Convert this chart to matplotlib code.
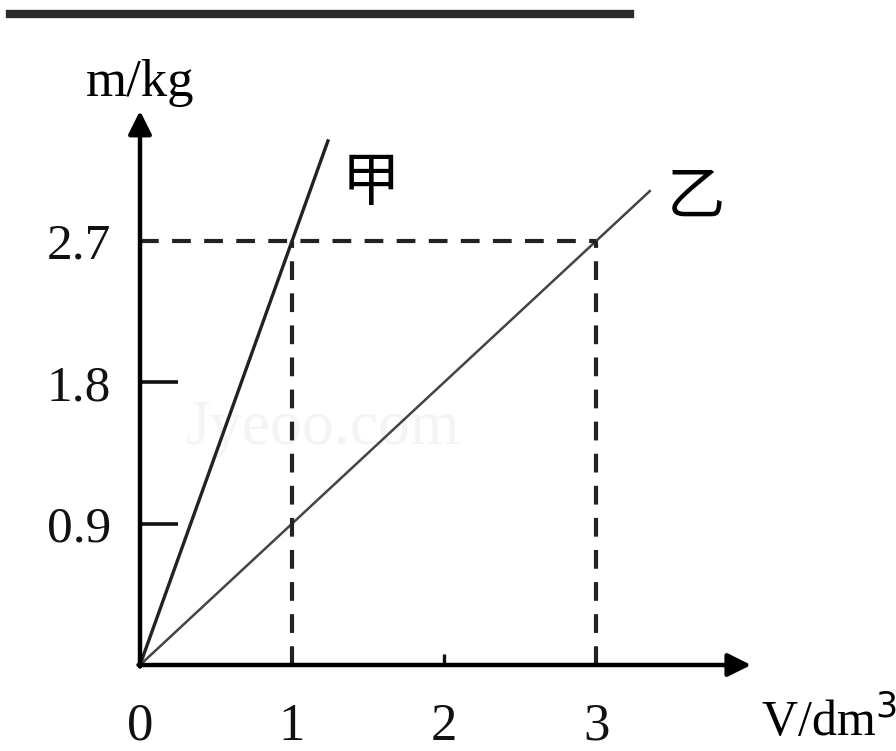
import matplotlib
matplotlib.use('Agg')
import matplotlib.pyplot as plt
import numpy as np
from matplotlib.lines import Line2D

# data
volume_ticks = [0, 1, 2, 3]
mass_ticks = [0.9, 1.8, 2.7]
jia_x = [0, 1.24]
jia_y = [0, 1.24 * 2.7]
yi_x = [0, 3.36]
yi_y = [0, 3.36 * 0.9]
mark_x = [1, 3]
mark_y = 2.7

fig = plt.figure(figsize=(8.96, 7.51), dpi=100)
ax = fig.add_axes([140 / 896, 86 / 751, 4.6 * 152 / 896, 3.6 * 157 / 751])
ax.set_xlim(0, 4.6)
ax.set_ylim(0, 3.6)
for s in ax.spines.values():
    s.set_visible(False)

serif = 'Liberation Serif'

# axes with arrows
ax.annotate('', xy=(4.02, 0), xytext=(-0.01, 0),
            arrowprops=dict(arrowstyle='-|>,head_length=1.4,head_width=0.7',
                            lw=3.2, color='black', shrinkA=0, shrinkB=0))
ax.annotate('', xy=(0, 3.53), xytext=(0, -0.01),
            arrowprops=dict(arrowstyle='-|>,head_length=1.4,head_width=0.7',
                            lw=3.2, color='black', shrinkA=0, shrinkB=0))

# the two lines
ax.plot(jia_x, jia_y, color='#222222', lw=2.4, solid_capstyle='butt')
ax.plot(yi_x, yi_y, color='#444444', lw=1.8, solid_capstyle='butt')

# dashed guides
ax.plot([0, mark_x[1]], [mark_y, mark_y], color='#222222', lw=3,
        dashes=(4.5, 3.2))
for mx in mark_x:
    ax.plot([mx, mx], [0, mark_y], color='#222222', lw=3, dashes=(4.5, 3.2))

# ticks
ax.set_xticks(volume_ticks)
ax.set_xticklabels([str(v) for v in volume_ticks], fontfamily=serif,
                   fontsize=38)
ax.set_yticks(mass_ticks)
ax.set_yticklabels([str(v) for v in mass_ticks], fontfamily=serif,
                   fontsize=37)
ax.tick_params(axis='y', direction='in', length=27, width=2.6, pad=21,
               colors='#111111')
ax.tick_params(axis='x', direction='in', length=8, width=2.4, pad=27,
               colors='#111111')
for i, t in enumerate(ax.xaxis.get_major_ticks()):
    if volume_ticks[i] != 2:
        t.tick1line.set_visible(False)
ax.yaxis.get_major_ticks()[2].tick1line.set_visible(False)

# axis labels
ax.text(0, 3.71, 'm/kg', fontfamily=serif, fontsize=38, ha='center',
        va='center', clip_on=False)
ax.text(4.98, -0.36, 'V/dm$^3$', fontfamily=serif, fontsize=36, ha='right',
        va='center', clip_on=False)

# series names
ax.text(1.52, 3.07, '甲', fontfamily='Noto Sans CJK SC', fontsize=42,
        ha='center', va='center')
ax.text(3.66, 2.98, '乙', fontfamily='Noto Sans CJK SC', fontsize=42,
        ha='center', va='center')

# faint watermark
ax.text(0.3, 1.5, 'Jyeoo.com', fontfamily=serif, fontsize=46, color='#f4f4f4',
        ha='left', va='center', zorder=0)

# top rule
fig.add_artist(Line2D([10 / 896, 630 / 896], [1 - 14 / 751, 1 - 14 / 751],
                      color='#2a2a2a', lw=6))

fig.savefig('out.png', dpi=100)
